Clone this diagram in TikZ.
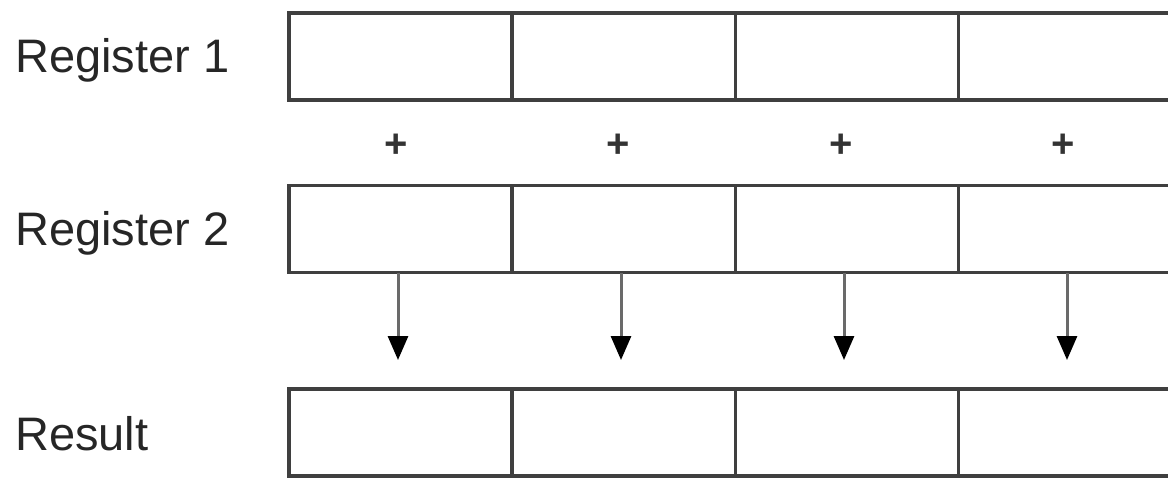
\documentclass[tikz,border=0pt]{standalone}
\usepackage{fontspec}
\setmainfont{Liberation Sans}
\usetikzlibrary{arrows.meta}
\definecolor{linecol}{HTML}{3F3F3F}
\definecolor{shaftcol}{HTML}{6A6A6A}
\begin{document}
\begin{tikzpicture}[x=1pt,y=-1pt,
  cell/.style={draw=linecol,line width=3.5pt,minimum width=223pt,minimum height=87pt,inner sep=0pt,outer sep=0pt},
  lbl/.style={anchor=base west,font=\fontsize{47}{50}\selectfont,text=black!85,inner sep=0pt},
  plus/.style={font=\bfseries\fontsize{40}{42}\selectfont,text=black!80,inner sep=0pt},
  flow/.style={draw=shaftcol,line width=3pt,-{Triangle[width=20pt,length=24pt,color=black]}}
]
\useasboundingbox (0,0) rectangle (1168,477);
% labels
\node[lbl] (l1) at (15,72) {Register 1};
\node[lbl] (l2) at (15,245) {Register 2};
\node[lbl] (l3) at (15,450) {Result};
% cells
\foreach \c/\x in {1/400.5,2/624,3/847,4/1070}{
  \node[cell] (a\c) at (\x,56.5) {};
  \node[cell] (b\c) at (\x,229) {};
  \node[cell] (r\c) at (\x,432.5) {};
}
% plus signs
\node[plus] (p1) at (396,146) {+};
\node[plus] (p2) at (618,146) {+};
\node[plus] (p3) at (841,146) {+};
\node[plus] (p4) at (1063,146) {+};
% arrows
\foreach \c/\x in {1/398,2/621,3/844,4/1067}{
  \coordinate (s\c) at (\x,272.5);
  \coordinate (t\c) at (\x,360);
  \draw[flow] (s\c) -- (t\c);
}
\end{tikzpicture}
\end{document}
